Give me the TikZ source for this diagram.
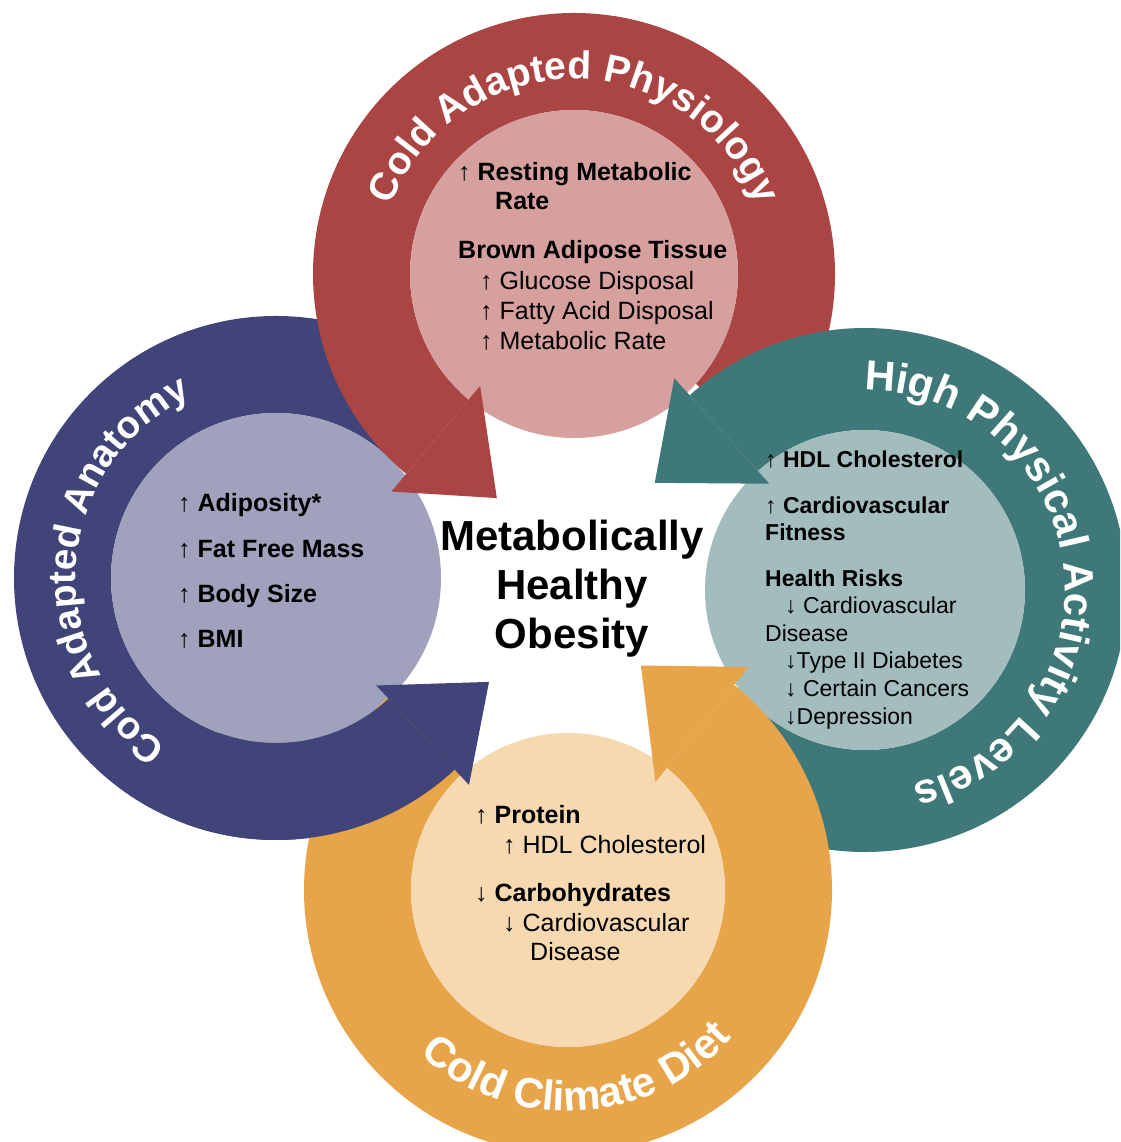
\documentclass[tikz,border=0pt]{standalone}
\usepackage{fontspec}
\setmainfont{Liberation Sans}
\usetikzlibrary{decorations.text}

\definecolor{redband}{HTML}{AA4543}
\definecolor{redlight}{HTML}{D6A09F}
\definecolor{blueband}{HTML}{414479}
\definecolor{bluelight}{HTML}{9FA1BD}
\definecolor{tealband}{HTML}{3F7878}
\definecolor{teallight}{HTML}{A3BDBF}
\definecolor{orangeband}{HTML}{E8A448}
\definecolor{orangelight}{HTML}{F6D9B1}

% annular sector: colour, cx, cy, inner r, outer r, start angle, end angle
\newcommand{\ringband}[7]{%
  \fill[#1, shift={(#2,#3)}] (#6:#5pt) arc[start angle=#6, end angle=#7, radius=#5pt]
    -- (#7:#4pt) arc[start angle=#7, end angle=#6, radius=#4pt] -- cycle;}
% arrow head: colour, cx, cy, base angle, tip angle, inner barb r, tip r, outer barb r
\newcommand{\ringhead}[8]{%
  \fill[#1, shift={(#2,#3)}] (#4:#6pt) -- (#5:#7pt) -- (#4:#8pt) -- cycle;}

\tikzset{
  lbl/.style={anchor=base west, inner sep=0pt, font=\fontsize{25}{30}\selectfont},
  lblb/.style={lbl, font=\bfseries\fontsize{25}{30}\selectfont},
  tlbl/.style={lbl, font=\fontsize{23}{28}\selectfont},
  tlblb/.style={lbl, font=\bfseries\fontsize{23}{28}\selectfont},
}

\begin{document}
\begin{tikzpicture}[x=1pt, y=1pt]
\clip (0,0) rectangle (1120,1142);
\fill[white] (0,0) rectangle (1120,1142);

% ---- rings with their inner discs ----
% Cold Adapted Anatomy
\ringband{blueband}{276}{564}{165}{262}{45}{313}
\fill[bluelight] (276,564) circle[radius=165pt];
% Cold Adapted Physiology
\ringband{redband}{574}{868}{164}{261}{-42}{230}
\fill[redlight] (574,868) circle[radius=164pt];
\ringhead{redband}{574}{868}{230}{251}{146}{237}{284}
% High Physical Activity Levels
\ringband{tealband}{865}{552}{160}{262}{-128}{132}
\fill[teallight] (865,552) circle[radius=160pt];
\ringhead{tealband}{865}{552}{132}{153}{143}{236}{285}
% Cold Climate Diet
\ringband{orangeband}{568}{252}{157}{264}{132}{411}
\fill[orangelight] (568,252) circle[radius=157pt];
\ringhead{orangeband}{568}{252}{411}{432}{139}{236}{287}
% front end of the anatomy arrow lies over the diet ring
\ringband{blueband}{276}{564}{165}{262}{250}{313}
\ringhead{blueband}{276}{564}{313}{334}{147}{237}{283}

% ---- curved ring titles ----
\path[shift={(574,868)}, decorate, decoration={text along path, text align=center,
  text color=white, text={|\bfseries\fontsize{39}{39}\selectfont|Cold Adapted Physiology}}]
  (180:195pt) arc[start angle=180, end angle=0, radius=195pt];
\path[shift={(276,564)}, decorate, decoration={text along path, text align=center,
  text color=white, text={|\bfseries\fontsize{38.5}{38.5}\selectfont|Cold Adapted Anatomy}}]
  (346:200pt) arc[start angle=346, end angle=6, radius=200pt];
\path[shift={(865,552)}, decorate, decoration={text along path, text align=center,
  text color=white, text={|\bfseries\fontsize{42}{42}\selectfont|High Physical Activity Levels}}]
  (178:200pt) arc[start angle=178, end angle=-164, radius=200pt];
\path[shift={(568,252)}, decorate, decoration={text along path, text align=center,
  text color=white, text={|\bfseries\fontsize{42}{42}\selectfont|Cold Climate Diet}}]
  (183:221pt) arc[start angle=183, end angle=363, radius=221pt];

% ---- centre title ----
\node[align=center, inner sep=0pt, font=\bfseries\fontsize{42}{49}\selectfont] (title)
  at (572,553) {Metabolically\\Healthy\\Obesity};

% ---- physiology disc ----
\node[lblb] (p1) at (458,961) {↑ Resting Metabolic};
\node[lblb] (p2) at (495,932) {Rate};
\node[lblb] (p3) at (458,883) {Brown Adipose Tissue};
\node[lbl]  (p4) at (480,852) {↑ Glucose Disposal};
\node[lbl]  (p5) at (480,822) {↑ Fatty Acid Disposal};
\node[lbl]  (p6) at (480,792) {↑ Metabolic Rate};

% ---- anatomy disc ----
\node[lblb] (a1) at (178,630) {↑ Adiposity*};
\node[lblb] (a2) at (178,584) {↑ Fat Free Mass};
\node[lblb] (a3) at (178,539) {↑ Body Size};
\node[lblb] (a4) at (178,494) {↑ BMI};

% ---- activity disc ----
\node[tlblb] (h1) at (765,674) {↑ HDL Cholesterol};
\node[tlblb] (h2) at (765,628) {↑ Cardiovascular};
\node[tlblb] (h3) at (765,601) {Fitness};
\node[tlblb] (h4) at (765,555) {Health Risks};
\node[tlbl]  (h5) at (785,528) {↓ Cardiovascular};
\node[tlbl]  (h6) at (765,500) {Disease};
\node[tlbl]  (h7) at (785,473) {↓Type II Diabetes};
\node[tlbl]  (h8) at (785,445) {↓ Certain Cancers};
\node[tlbl]  (h9) at (785,417) {↓Depression};

% ---- diet disc ----
\node[lblb] (d1) at (475,318) {↑ Protein};
\node[lbl]  (d2) at (503,288) {↑ HDL Cholesterol};
\node[lblb] (d3) at (475,240) {↓ Carbohydrates};
\node[lbl]  (d4) at (503,210) {↓ Cardiovascular};
\node[lbl]  (d5) at (530,181) {Disease};
\end{tikzpicture}
\end{document}
